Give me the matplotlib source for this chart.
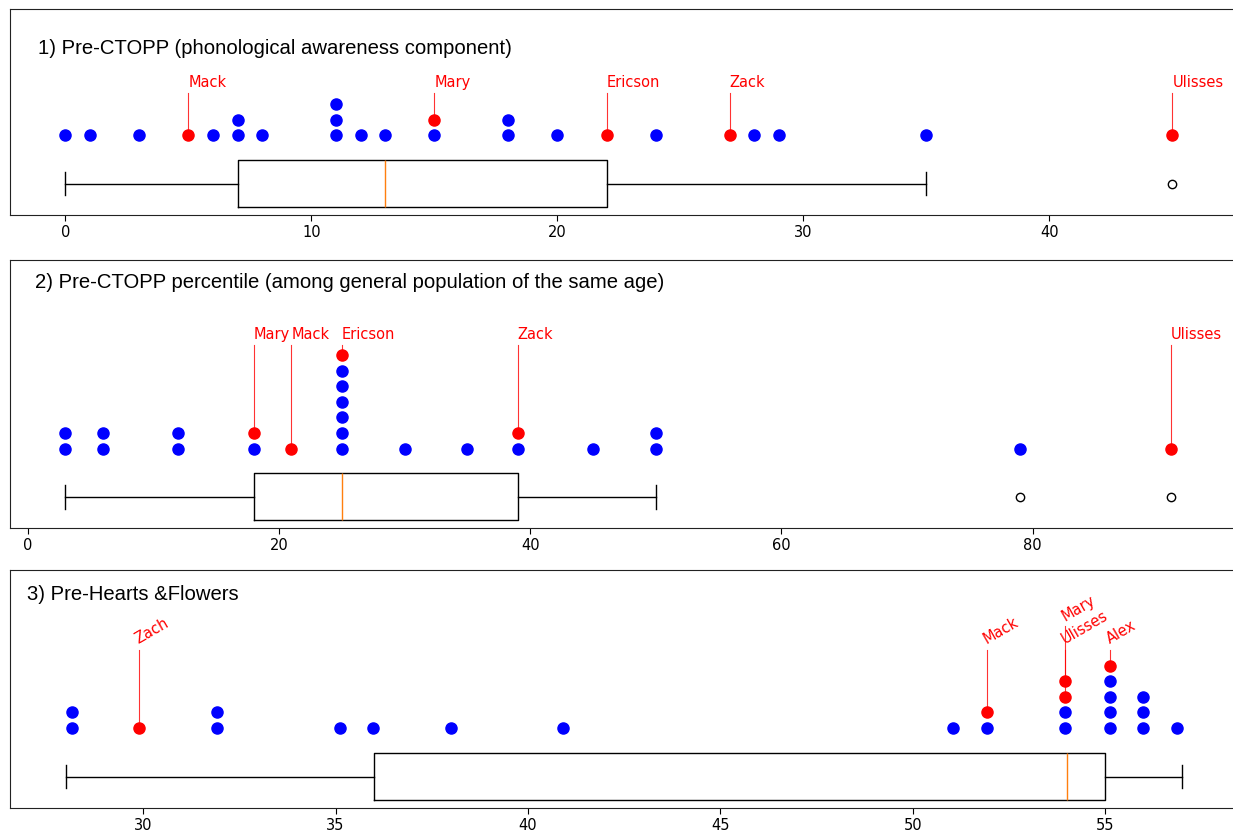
import numpy as np
import matplotlib.pyplot as plt

# scores per test (25 children), named children highlighted in red
titles = ['1) Pre-CTOPP (phonological awareness component)',
          '2) Pre-CTOPP percentile (among general population of the same age)',
          '3) Pre-Hearts &Flowers']

ctopp = [0, 1, 3, 5, 6, 7, 7, 8, 11, 11, 11, 12, 13, 15, 15, 18, 18, 20, 22,
         24, 27, 28, 29, 35, 45]
ctopp_names = {'Mack': 5, 'Mary': 15, 'Ericson': 22, 'Zack': 27, 'Ulisses': 45}

percentile = [3, 3, 6, 6, 12, 12, 18, 18, 21, 25, 25, 25, 25, 25, 25, 25, 30,
              35, 39, 39, 45, 50, 50, 79, 91]
percentile_names = {'Mary': 18, 'Mack': 21, 'Ericson': 25, 'Zack': 39, 'Ulisses': 91}

hearts = [28, 28, 30, 32, 32, 35, 36, 38, 41, 51, 52, 52, 54, 54, 54, 54, 55,
          55, 55, 55, 55, 56, 56, 56, 57]
hearts_names = {'Zach': 30, 'Mack': 52, 'Mary': 54, 'Ulisses': 54, 'Alex': 55}

W, H = 1233, 833
# layout in pixels: (axes top, axes bottom, title x, title y)
layout = [(9, 215, 38, 48), (260, 528, 35, 283), (570, 808, 27, 595)]
xlims = [(-2.25, 47.75), (-1.4, 96.5), (26.54, 58.5)]
nbins = [None, None, 100]
label_gap = [0.72, 0.64, 1.0]
label_rot = [0, 0, 30]
ROW0 = 3.1


def dot_positions(scores, bins):
    scores = np.asarray(scores, dtype=float)
    if bins is None:
        return scores
    counts, edges = np.histogram(scores, bins=bins)
    idx = np.clip(np.digitize(scores, edges) - 1, 0, bins - 1)
    return 0.5 * (edges[idx] + edges[idx + 1])


def draw_panel(ax, scores, names, bins, gap, rot):
    xs = dot_positions(scores, bins)
    named = {}
    for n, v in names.items():
        named.setdefault(v, []).append(n)

    # blue dots first, red (named) ones stacked on top
    stacks = {}
    red_pts = []
    for v, x in zip(scores, xs):
        stacks.setdefault(v, []).append(x)
    top = 0
    for v, xl in stacks.items():
        n_red = len(named.get(v, []))
        n_blue = len(xl) - n_red
        for k in range(len(xl)):
            y = ROW0 + k
            color = 'b' if k < n_blue else 'r'
            ax.plot(xl[k], y, 'o', color=color, ms=8, zorder=3)
            if k >= n_blue:
                red_pts.append((named[v][k - n_blue], xl[k], y))
        top = max(top, len(xl))

    top_row = ROW0 + top - 1
    base = top_row + gap
    for name, x, y in red_pts:
        group = named[names[name]]
        i = group.index(name)
        ly = base + 1.5 * (len(group) - 1 - i)
        ax.plot([x, x], [y, ly], color='r', lw=0.8, alpha=0.8, zorder=2)
        ax.annotate(name, (x, ly), xytext=(1 if rot else 0, 2),
                    textcoords='offset points', ha='left', va='bottom',
                    rotation=rot, rotation_mode='anchor', color='r',
                    fontsize=10.5, family='DejaVu Sans')

    ax.boxplot(scores, orientation='horizontal', positions=[0], widths=3.0,
               flierprops=dict(marker='o', markerfacecolor='none',
                               markeredgecolor='k', markersize=6))
    ax.set_ylim(-2.0, top_row + 6.1)
    ax.set_yticks([])
    return ax


fig = plt.figure(figsize=(W / 100, H / 100), dpi=100)
data = [(ctopp, ctopp_names), (percentile, percentile_names), (hearts, hearts_names)]
for i, (scores, names) in enumerate(data):
    t, b, tx, ty = layout[i]
    ax = fig.add_axes([10 / W, 1 - b / H, 1230 / W, (b - t) / H])
    draw_panel(ax, scores, names, nbins[i], label_gap[i], label_rot[i])
    ax.set_xlim(*xlims[i])
    ax.tick_params(axis='x', labelsize=10.5, length=4)
    for s in ax.spines.values():
        s.set_color('#222222')
    fig.text(tx / W, 1 - ty / H, titles[i], ha='left', va='center',
             fontsize=14.6, family='Liberation Sans')

fig.savefig('out.png', dpi=100)
